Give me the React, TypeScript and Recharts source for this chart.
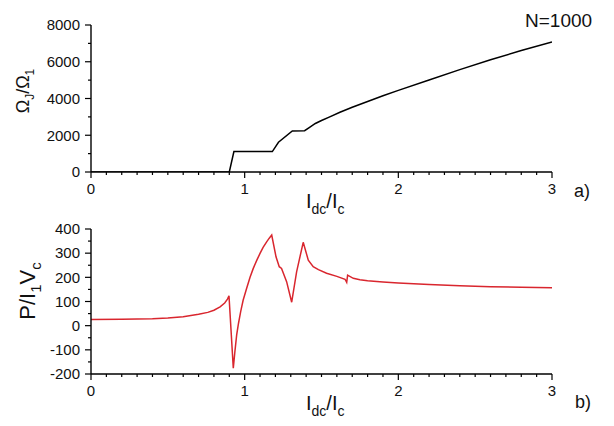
import React from 'react'
import { LineChart, Line, XAxis, YAxis } from 'recharts'

// panel a) Omega_J / Omega_1 vs Idc/Ic
const omegaX = [0, 0.5, 0.9, 0.93, 1.18, 1.22, 1.31, 1.39, 1.42, 1.46, 1.5, 1.55, 1.62, 1.7, 1.8, 1.9, 2.0, 2.2, 2.4, 2.6, 2.8, 3.0]
const omegaY = [0, 0, 0, 1110, 1110, 1620, 2230, 2250, 2420, 2640, 2800, 2990, 3250, 3520, 3840, 4150, 4440, 5010, 5570, 6110, 6610, 7070]

// panel b) P / I1 Vc vs Idc/Ic
const powerX = [
  0, 0.2, 0.4, 0.5, 0.6, 0.7, 0.76, 0.8, 0.84, 0.87, 0.888, 0.898,
  0.926, 0.936, 0.948, 0.96, 0.974, 0.99, 1.013, 1.035, 1.056, 1.08, 1.1, 1.12, 1.143, 1.16, 1.176,
  1.204, 1.225, 1.24, 1.273, 1.306, 1.338, 1.381, 1.414, 1.446, 1.48, 1.533, 1.6, 1.653, 1.664, 1.67,
  1.707, 1.75, 1.8, 1.9, 2.0, 2.2, 2.4, 2.6, 2.8, 3.0,
]
const powerY = [
  25, 26.5, 29, 32, 37, 47, 55, 64, 78, 94, 110, 124,
  -176, -110, -38, 10, 58, 105, 155, 200, 237, 272, 299, 324, 347, 362, 375,
  285, 244, 237, 182, 97, 223, 345, 271, 244, 232, 217, 204, 192, 179, 209,
  196, 190, 186, 181, 177, 170, 165, 161, 159, 157,
]

const xTicks = [0, 0.1, 0.2, 0.3, 0.4, 0.5, 0.6, 0.7, 0.8, 0.9, 1, 1.1, 1.2, 1.3, 1.4, 1.5, 1.6, 1.7, 1.8, 1.9, 2, 2.1, 2.2, 2.3, 2.4, 2.5, 2.6, 2.7, 2.8, 2.9, 3]
const xMajor = [0, 1, 2, 3]
const omegaTicks = [0, 1000, 2000, 3000, 4000, 5000, 6000, 7000, 8000]
const omegaMajor = [0, 2000, 4000, 6000, 8000]
const powerTicks = [-200, -150, -100, -50, 0, 50, 100, 150, 200, 250, 300, 350, 400]
const powerMajor = [-200, -100, 0, 100, 200, 300, 400]

const omegaData = omegaX.map((x, i) => ({ x, y: omegaY[i] }))
const powerData = powerX.map((x, i) => ({ x, y: powerY[i] }))

const FONT = '"Liberation Sans", Arial, sans-serif'
const axisLine = { stroke: '#000', strokeWidth: 1.4 }

const xTick = (p: any) => {
  const major = xMajor.includes(p.payload.value)
  return (
    <g>
      <line x1={p.x} y1={p.y} x2={p.x} y2={p.y + (major ? 6 : 3)} stroke='#000' strokeWidth={1.2} />
      {major && (
        <text x={p.x} y={p.y + 21.5} textAnchor='middle' fontSize={15} fontFamily={FONT} fill='#111'>
          {p.payload.value}
        </text>
      )}
    </g>
  )
}

const yTick = (majors: number[]) => (p: any) => {
  const major = majors.includes(p.payload.value)
  return (
    <g>
      <line x1={p.x} y1={p.y} x2={p.x - (major ? 6 : 3)} y2={p.y} stroke='#000' strokeWidth={1.2} />
      {major && (
        <text x={p.x - 11} y={p.y} dy={5.3} textAnchor='end' fontSize={15} fontFamily={FONT} fill='#111'>
          {p.payload.value}
        </text>
      )}
    </g>
  )
}

function XLabel({ y }: { y: number }) {
  return (
    <text x={306} y={y} fontSize={20} fontFamily={FONT} fill='#111'>
      I<tspan dy={6} fontSize={14}>dc</tspan>
      <tspan dy={-6}>/I</tspan>
      <tspan dy={6} fontSize={14}>c</tspan>
    </text>
  )
}

export default function App() {
  return (
    <div style={{ position: 'absolute', left: 0, top: 0, width: 614, height: 426, background: '#fff' }}>
      <div style={{ position: 'absolute', left: 0, top: 0 }}>
        <LineChart width={614} height={200} data={omegaData} margin={{ top: 25, right: 62, bottom: 0, left: 0 }}>
          <XAxis dataKey='x' type='number' domain={[0, 3]} ticks={xTicks} interval={0} tick={xTick}
            tickSize={0} tickMargin={0} tickLine={false} axisLine={axisLine} height={28} allowDataOverflow />
          <YAxis type='number' domain={[0, 8000]} ticks={omegaTicks} interval={0} tick={yTick(omegaMajor)}
            tickSize={0} tickMargin={0} tickLine={false} axisLine={axisLine} width={91} allowDataOverflow />
          <Line dataKey='y' type='linear' stroke='#000' strokeWidth={1.5} dot={false} isAnimationActive={false} />
        </LineChart>
      </div>
      <div style={{ position: 'absolute', left: 0, top: 200 }}>
        <LineChart width={614} height={226} data={powerData} margin={{ top: 29, right: 62, bottom: 22, left: 0 }}>
          <XAxis dataKey='x' type='number' domain={[0, 3]} ticks={xTicks} interval={0} tick={xTick}
            tickSize={0} tickMargin={0} tickLine={false} axisLine={axisLine} height={30} allowDataOverflow />
          <YAxis type='number' domain={[-200, 400]} ticks={powerTicks} interval={0} tick={yTick(powerMajor)}
            tickSize={0} tickMargin={0} tickLine={false} axisLine={axisLine} width={91} allowDataOverflow />
          <Line dataKey='y' type='linear' stroke='#d9262e' strokeWidth={1.5} dot={false} isAnimationActive={false} />
        </LineChart>
      </div>
      <svg width={614} height={426} style={{ position: 'absolute', left: 0, top: 0, pointerEvents: 'none' }}>
        <text x={525} y={27} fontSize={19} fontFamily={FONT} fill='#111'>N=1000</text>
        <text x={574} y={197} fontSize={18} fontFamily={FONT} fill='#111'>a)</text>
        <text x={575} y={408} fontSize={18} fontFamily={FONT} fill='#111'>b)</text>
        <XLabel y={208} />
        <XLabel y={409.5} />
        <text transform='rotate(-90, 29, 91)' x={29} y={91} textAnchor='middle' fontSize={18} fontFamily={FONT} fill='#111'>
          Ω<tspan dy={5} fontSize={12}>J</tspan>
          <tspan dy={-5}>/Ω</tspan>
          <tspan dy={5} fontSize={12}>1</tspan>
        </text>
        <text transform='rotate(-90, 35, 291)' x={35} y={291} textAnchor='middle' fontSize={22} fontFamily={FONT} fill='#111'>
          P/I<tspan dy={6} fontSize={15}>1</tspan>
          <tspan dy={-6}>V</tspan>
          <tspan dy={6} fontSize={15}>c</tspan>
        </text>
      </svg>
    </div>
  )
}
